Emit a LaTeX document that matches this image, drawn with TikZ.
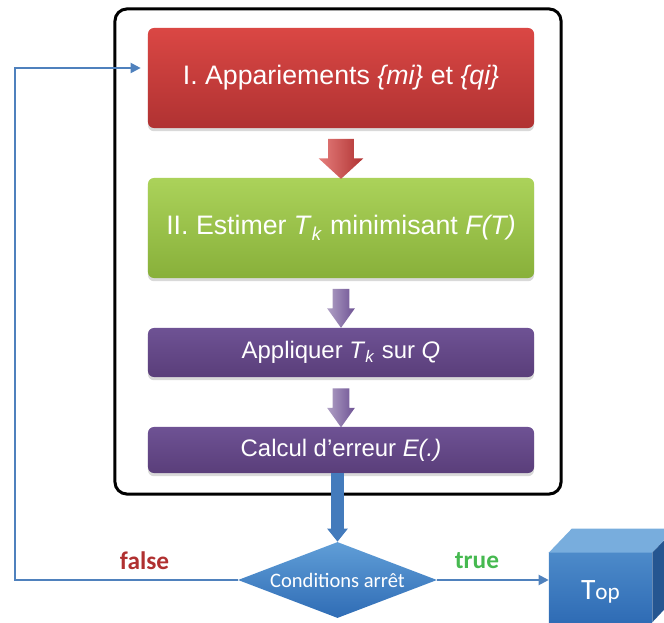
\documentclass[tikz,border=0pt]{standalone}
\usepackage{fontspec}
\setmainfont{Liberation Sans}
\newfontfamily\calib{Carlito}
\usepackage{tikz}
\usetikzlibrary{calc,positioning,arrows.meta,shapes.geometric,shapes.arrows,shadows}
\definecolor{stepred}{RGB}{218,71,68}
\definecolor{stepreddark}{RGB}{176,50,50}
\definecolor{stepgreen}{RGB}{171,210,90}
\definecolor{stepgreendark}{RGB}{136,176,58}
\definecolor{steppurple}{RGB}{110,82,148}
\definecolor{steppurpledark}{RGB}{90,62,122}
\definecolor{condblue}{RGB}{96,158,215}
\definecolor{condbluedark}{RGB}{47,108,181}
\definecolor{loopblue}{RGB}{79,129,189}
\definecolor{falsered}{RGB}{176,48,48}
\definecolor{truegreen}{RGB}{70,185,80}

\begin{document}
\begin{tikzpicture}[x=0.025cm, y=-0.025cm,
  stepbox/.style={rectangle, rounded corners=0.15cm, text=white, minimum width=9.65cm,
    drop shadow={opacity=0.3, shadow xshift=0cm, shadow yshift=-0.08cm}},
  bigtext/.style={font=\fontsize{19}{22}\selectfont},
  smalltext/.style={font=\fontsize{17}{20}\selectfont},
  redarrow/.style={single arrow, shape border rotate=270, minimum height=1cm, inner sep=0.3125cm,
    single arrow head extend=0.2375cm, single arrow tip angle=95, left color=stepred!70!white, right color=stepreddark},
  purplearrow/.style={single arrow, shape border rotate=270, minimum height=0.975cm, inner sep=0.2cm,
    single arrow head extend=0.1375cm, single arrow tip angle=71, left color=steppurple!55!white, right color=steppurple},
  loopline/.style={draw=loopblue, line width=0.05cm, -{Triangle[length=0.25cm, width=0.25cm]}},
  thickarrow/.style={draw=condbluedark!90!white, line width=0.32cm, -{Triangle[length=0.33cm, width=0.5cm]}}]

  \useasboundingbox (0,0) rectangle (664,623);
  \clip (0,0) rectangle (664,623);

  % Loop frame
  \node[draw, line width=0.075cm, rounded corners=0.3cm, minimum width=11.15cm, minimum height=12.125cm] (frame) at (338,251.5) {};

  % Steps
  \node[stepbox, bigtext, minimum height=2.5cm, top color=stepred, bottom color=stepreddark] (match) at (341,78)
    {I. Appariements \textit{\{mi\}} et \textit{\{qi\}}};
  \node[stepbox, bigtext, minimum height=2.5cm, top color=stepgreen, bottom color=stepgreendark] (estim) at (341,228)
    {II. Estimer \textit{T}\textsubscript{\textit{k}} minimisant \textit{F(T)}};
  \node[stepbox, smalltext, minimum height=1.225cm, top color=steppurple, bottom color=steppurpledark] (apply) at (341,352.5)
    {Appliquer \textit{T}\textsubscript{\textit{k}} sur \textit{Q}};
  \node[stepbox, smalltext, minimum height=1.15cm, top color=steppurple, bottom color=steppurpledark] (error) at (341,450)
    {Calcul d'erreur \textit{E(.)}};

  % Block arrows between steps
  \node[redarrow] (a1) at (341,153) {};
  \node[purplearrow] (a2) at (341,302.5) {};
  \node[purplearrow] (a3) at (341,402) {};

  % Stop test
  \node[diamond, aspect=2.6, inner sep=0pt, minimum width=4.975cm, minimum height=1.9cm, text=white,
    top color=condblue, bottom color=condbluedark, font=\calib\fontsize{14.6}{17}\selectfont] (cond) at (337.5,580) {Conditions arrêt};

  % Result cube
  \node[rectangle, minimum width=2.575cm, minimum height=1.725cm, text height=0.6cm, text depth=0pt,
    top color=condblue!60!condbluedark, bottom color=condbluedark, text=white, font=\calib] (cube) at (600.5,587.5)
    {{\fontsize{21}{22}\selectfont T}{\fontsize{16.5}{18}\selectfont op}};
  \fill[condblue!85!white] (cube.north west) -- ++(23,-24) -- ++(103,0) -- (cube.north east) -- cycle;
  \fill[condbluedark!80!black] (cube.north east) -- ++(23,-24) -- ++(0,69) -- (cube.south east) -- cycle;

  % Connectors
  \coordinate (back) at (15,68);
  \draw[thickarrow] (error.south -| cond.north) -- (cond.north);
  \draw[loopline, shorten >=0.175cm] (cond.west) -| (back) -- (back -| match.west);
  \draw[loopline] (cond.east) -- (cond.east -| cube.west);

  % Branch labels
  \node[text=falsered, font=\calib\bfseries\fontsize{18}{20}\selectfont] (lfalse) at (144.5,561) {false};
  \node[text=truegreen, font=\calib\bfseries\fontsize{18}{20}\selectfont] (ltrue) at (477,561) {true};
\end{tikzpicture}
\end{document}
